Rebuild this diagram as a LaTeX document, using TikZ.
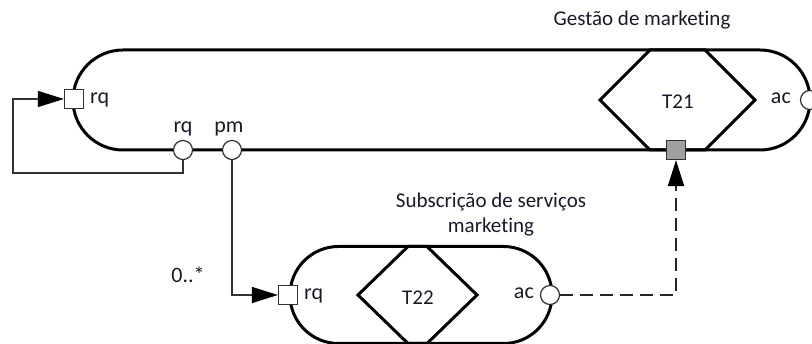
\documentclass[tikz,border=0pt]{standalone}
\usepackage{fontspec}
\setmainfont[Ligatures=NoCommon]{Carlito}
\usetikzlibrary{shapes.misc,arrows.meta}
\definecolor{txt}{RGB}{24,26,44}
\definecolor{wire}{RGB}{50,50,50}
\definecolor{portgray}{RGB}{160,160,160}
\tikzset{
  actor/.style={rounded rectangle, draw=black, line width=3pt, inner sep=0pt},
  trans/.style={draw=black, line width=3pt, line join=miter},
  portsq/.style={rectangle, draw=wire, fill=white, line width=1.2pt, minimum size=19pt, inner sep=0pt},
  portci/.style={circle, draw=wire, fill=white, line width=1.2pt, minimum size=19pt, inner sep=0pt},
  lbl/.style={text=txt, font=\fontsize{22}{24}\selectfont, inner sep=0pt},
  tlbl/.style={text=txt, font=\fontsize{21}{23}\selectfont, inner sep=0pt},
  ttl/.style={text=txt, font=\fontsize{21}{25}\selectfont, inner sep=0pt, align=center},
  wireln/.style={draw=wire, line width=1.3pt},
  tip/.style={-{Triangle[length=26pt,width=16pt,color=black,fill=black]}},
}
\begin{document}
\begin{tikzpicture}[x=1pt,y=-1pt]
\useasboundingbox (0,0) rectangle (812,344);

% composite actor: Gestão de marketing
\node[actor, minimum width=737pt, minimum height=100pt] (gm) at (441.5,100) {};
\draw[trans] (600,100) -- (650,50) -- (705,50) -- (755,100) -- (705,150) -- (650,150) -- cycle;
\node[tlbl] (t21) at (678,102) {T21};
\node[ttl] (gmt) at (642,20) {Gestão de marketing};

% elementary actor: Subscrição de serviços marketing
\node[actor, minimum width=262pt, minimum height=97pt] (ss) at (421,295) {};
\draw[trans] (358,295) -- (408,246.5) -- (427,246.5) -- (477,295) -- (427,343.5) -- (408,343.5) -- cycle;
\node[tlbl] (t22) at (418,298) {T22};
\node[ttl] (sst) at (491,215) {Subscrição de serviços\\marketing};

% ports
\node[portsq] (rq1) at (74,99) {};
\node[lbl, anchor=west] (rq1l) at (90,100) {rq};
\node[portci] (rqc) at (183,150) {};
\node[lbl] (rqcl) at (183,129) {rq};
\node[portci] (pmc) at (232,150) {};
\node[lbl] (pmcl) at (229,129) {pm};
\node[portci] (ac1) at (810,100) {};
\node[lbl, anchor=east] (ac1l) at (791,98) {ac};
\node[portsq, fill=portgray] (sq21) at (676,150) {};

\node[portsq] (rq2) at (288,295) {};
\node[lbl, anchor=west] (rq2l) at (304,296) {rq};
\node[portci] (ac2) at (550,295) {};
\node[lbl, anchor=east] (ac2l) at (534,293) {ac};
\node[lbl] (card) at (188,275) {0..*};

% connectors
\coordinate (fb) at (13,173);
\draw[wireln, tip] (rqc.south) |- (fb) |- (rq1.west);
\draw[wireln, tip] (pmc.south) |- (rq2.west);
\draw[wireln, tip, draw=black!85, line width=1.8pt, dash pattern=on 13pt off 7pt] (ac2.east) -| (sq21.south);
\end{tikzpicture}
\end{document}
